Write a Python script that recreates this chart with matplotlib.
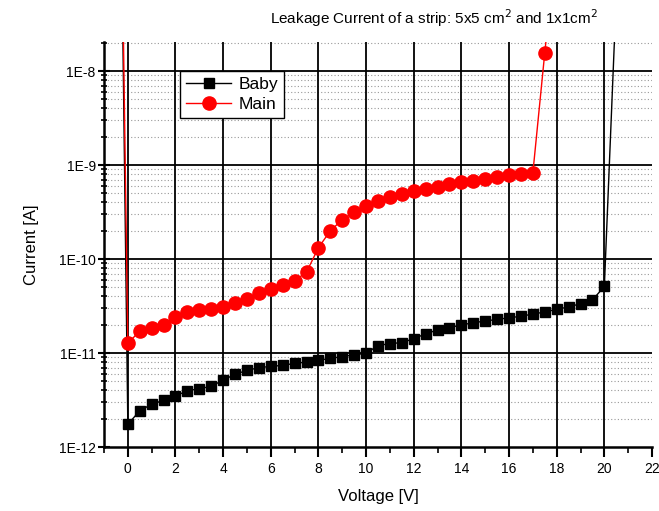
import numpy as np
import matplotlib
matplotlib.use('Agg')
import matplotlib.pyplot as plt
from matplotlib.ticker import FixedLocator, FuncFormatter, NullFormatter

plt.rcParams['font.family'] = ['Liberation Sans', 'DejaVu Sans']

# Baby sensor (black squares), V in volts, I in amps
baby_v = [-0.5, 0, 0.5, 1, 1.5, 2, 2.5, 3, 3.5, 4, 4.5, 5, 5.5, 6, 6.5, 7, 7.5,
          8, 8.5, 9, 9.5, 10, 10.5, 11, 11.5, 12, 12.5, 13, 13.5, 14, 14.5,
          15, 15.5, 16, 16.5, 17, 17.5, 18, 18.5, 19, 19.5, 20, 20.5]
baby_i = [1.4e-2, 1.74e-12, 2.43e-12, 2.85e-12, 3.14e-12, 3.49e-12, 3.97e-12,
          4.17e-12, 4.42e-12, 5.16e-12, 5.93e-12, 6.54e-12, 6.98e-12, 7.21e-12,
          7.39e-12, 7.76e-12, 8.02e-12, 8.36e-12, 8.79e-12, 9.14e-12, 9.59e-12,
          9.93e-12, 1.20e-11, 1.26e-11, 1.29e-11, 1.42e-11, 1.60e-11, 1.76e-11,
          1.86e-11, 1.99e-11, 2.10e-11, 2.19e-11, 2.28e-11, 2.37e-11, 2.46e-11,
          2.60e-11, 2.73e-11, 2.92e-11, 3.09e-11, 3.35e-11, 3.66e-11, 5.12e-11,
          6.3e-8]

# Main sensor (red circles)
main_v = [-0.5, 0, 0.5, 1, 1.5, 2, 2.5, 3, 3.5, 4, 4.5, 5, 5.5, 6, 6.5, 7, 7.5,
          8, 8.5, 9, 9.5, 10, 10.5, 11, 11.5, 12, 12.5, 13, 13.5, 14, 14.5,
          15, 15.5, 16, 16.5, 17, 17.5, 18]
main_i = [8e-3, 1.27e-11, 1.71e-11, 1.85e-11, 1.97e-11, 2.42e-11, 2.71e-11,
          2.87e-11, 2.96e-11, 3.11e-11, 3.40e-11, 3.78e-11, 4.32e-11, 4.80e-11,
          5.33e-11, 5.88e-11, 7.27e-11, 1.32e-10, 2.00e-10, 2.62e-10, 3.18e-10,
          3.66e-10, 4.14e-10, 4.53e-10, 4.95e-10, 5.25e-10, 5.56e-10, 5.88e-10,
          6.33e-10, 6.59e-10, 6.81e-10, 7.15e-10, 7.45e-10, 7.76e-10, 8.07e-10,
          8.28e-10, 1.57e-8, 2.7e-7]

x_ticks = list(range(0, 23, 2))
y_ticks = [1e-12, 1e-11, 1e-10, 1e-9, 1e-8]
y_minor = [m * 10.0 ** e for e in range(-12, -7) for m in range(2, 10)
           if m * 10.0 ** e < 2.04e-8]

fig = plt.figure(figsize=(6.59, 5.11), dpi=100)
ax = fig.add_axes([104 / 659, 1 - 447 / 511, 548 / 659, 405 / 511])

ax.set_yscale('log')
ax.set_xlim(-1, 22)
ax.set_ylim(1e-12, 2.04e-8)

# grid: solid majors, dotted minor decades
for x in range(0, 21, 2):
    ax.axvline(x, color='black', lw=1.3, zorder=1)
for y in y_ticks[1:]:
    ax.axhline(y, color='black', lw=1.3, zorder=1)
for y in y_minor:
    ax.axhline(y, color='#999999', lw=0.8, ls=(0, (1, 2)), zorder=0.5)

ax.plot(baby_v, baby_i, color='black', lw=1, marker='s', markersize=7,
        label='Baby', zorder=3)
ax.plot(main_v, main_i, color='red', lw=1, marker='o', markersize=9.5,
        label='Main', zorder=3)

ax.xaxis.set_major_locator(FixedLocator(x_ticks))
ax.xaxis.set_minor_locator(FixedLocator(list(range(-1, 22, 2))))
ax.xaxis.set_minor_formatter(NullFormatter())
ax.yaxis.set_major_locator(FixedLocator(y_ticks))
ax.yaxis.set_minor_locator(FixedLocator(y_minor))
ax.yaxis.set_major_formatter(FuncFormatter(lambda v, p: '1E%d' % round(np.log10(v))))
ax.yaxis.set_minor_formatter(NullFormatter())

ax.tick_params(axis='x', which='major', direction='out', length=7, width=1.5, labelsize=10, pad=4)
ax.tick_params(axis='x', which='minor', direction='out', length=4, width=1.2)
ax.tick_params(axis='y', which='major', direction='inout', length=8, width=1.5, labelsize=10, pad=2)
ax.tick_params(axis='y', which='minor', direction='inout', length=4, width=1.2)

for s in ['top', 'right']:
    ax.spines[s].set_visible(False)
for s in ['left', 'bottom']:
    ax.spines[s].set_linewidth(1.8)

ax.set_xlabel('Voltage [V]', fontsize=12, labelpad=9)
ax.set_ylabel('Current [A]', fontsize=12, labelpad=14)

fig.text(434 / 659, 1 - 18 / 511,
         'Leakage Current of a strip: 5x5 cm$^2$ and 1x1cm$^2$',
         ha='center', va='center', fontsize=11)

leg = ax.legend(loc='upper left', bbox_to_anchor=(0.139, 0.929), borderaxespad=0,
                fontsize=12.5, frameon=True, fancybox=False, framealpha=1,
                edgecolor='black', handlelength=2.6, handletextpad=0.4,
                borderpad=0.35, labelspacing=0.3)
leg.get_frame().set_linewidth(1.0)
leg.set_zorder(5)

fig.savefig('out.png', dpi=100)
